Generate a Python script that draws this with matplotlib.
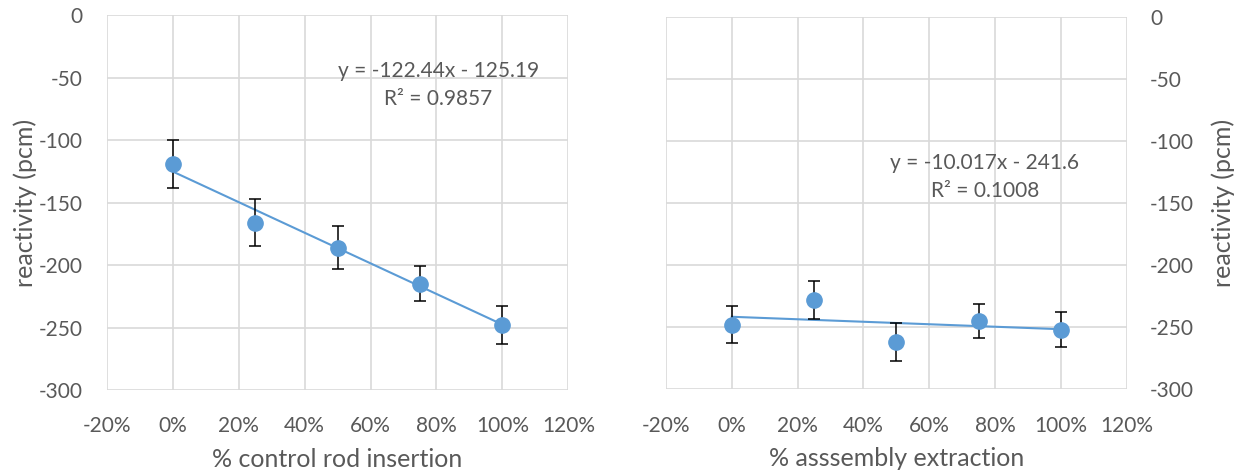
import matplotlib
matplotlib.use("Agg")
import matplotlib.pyplot as plt
from matplotlib.ticker import FuncFormatter, MultipleLocator

plt.rcParams['font.family'] = ['Lato', 'DejaVu Sans']
plt.rcParams['axes.unicode_minus'] = False

# Measured reactivity vs. fraction of insertion / extraction
insertion = [0.0, 0.25, 0.50, 0.75, 1.00]
rod_reactivity = [-119, -166, -186, -215, -248]
rod_error = [19, 19, 17, 14, 15]
rod_fit = (-122.44, -125.19, 0.9857)

extraction = [0.0, 0.25, 0.50, 0.75, 1.00]
assembly_reactivity = [-248, -228, -262, -245, -252]
assembly_error = [15, 15, 15, 14, 14]
assembly_fit = (-10.017, -241.6, 0.1008)

BLUE = '#5B9BD5'
GRID = '#D9D9D9'
TEXT = '#595959'
TICK_FS = 15
TITLE_FS = 18

fig = plt.figure(figsize=(12.34, 4.75), dpi=100)
ax1 = fig.add_axes([0.0865, 0.1789, 0.3741, 0.7895])
ax2 = fig.add_axes([0.5397, 0.1804, 0.3733, 0.7844])


def pct(v, _):
    return f"{v * 100:.0f}%".replace('−', '-')


def style(ax, side):
    ax.set_xlim(-0.2, 1.2)
    ax.set_ylim(-300, 0)
    ax.xaxis.set_major_locator(MultipleLocator(0.2))
    ax.yaxis.set_major_locator(MultipleLocator(50))
    ax.xaxis.set_major_formatter(FuncFormatter(pct))
    ax.grid(True, color=GRID, linewidth=1.2, zorder=0)
    for s in ax.spines.values():
        s.set_visible(False)
    ax.tick_params(axis='both', length=0, labelsize=TICK_FS, labelcolor=TEXT)
    ax.tick_params(axis='x', pad=19)
    if side == 'right':
        ax.yaxis.tick_right()
        ax.yaxis.set_label_position('right')
        ax.tick_params(axis='y', pad=16.8)
    else:
        ax.tick_params(axis='y', pad=17.3)
    ax.set_axisbelow(True)


def draw(ax, x, y, err, fit, xlabel, side, txt_xy):
    style(ax, side)
    slope, intercept, r2 = fit
    xs = [min(x), max(x)]
    ax.plot(xs, [slope * v + intercept for v in xs], color=BLUE, lw=1.5, zorder=2)
    ax.errorbar(x, y, yerr=err, fmt='none', ecolor='black', elinewidth=1.1,
                capsize=4.4, capthick=1.1, zorder=3)
    ax.plot(x, y, 'o', color=BLUE, markersize=11, zorder=4)
    sign = '-' if intercept < 0 else '+'
    eq = f"y = {slope:g}x {sign} {abs(intercept):g}"
    ax.text(txt_xy[0], txt_xy[1], f"{eq}\nR² = {r2:.4f}", ha='center', va='center',
            fontsize=TICK_FS, color=TEXT, linespacing=1.45, zorder=5)
    ax.set_xlabel(xlabel, fontsize=TITLE_FS, color=TEXT, labelpad=8)
    ax.set_ylabel('reactivity (pcm)', fontsize=TITLE_FS, color=TEXT, rotation=90)
    if side == 'left':
        ax.yaxis.set_label_coords(-0.151, 0.5)
    else:
        ax.yaxis.set_label_coords(1.1845, 0.5)


draw(ax1, insertion, rod_reactivity, rod_error, rod_fit,
     '% control rod insertion', 'left', (0.806, -56))
draw(ax2, extraction, assembly_reactivity, assembly_error, assembly_fit,
     '% asssembly extraction', 'right', (0.769, -129))

fig.savefig('out.png', dpi=100, facecolor='white')
